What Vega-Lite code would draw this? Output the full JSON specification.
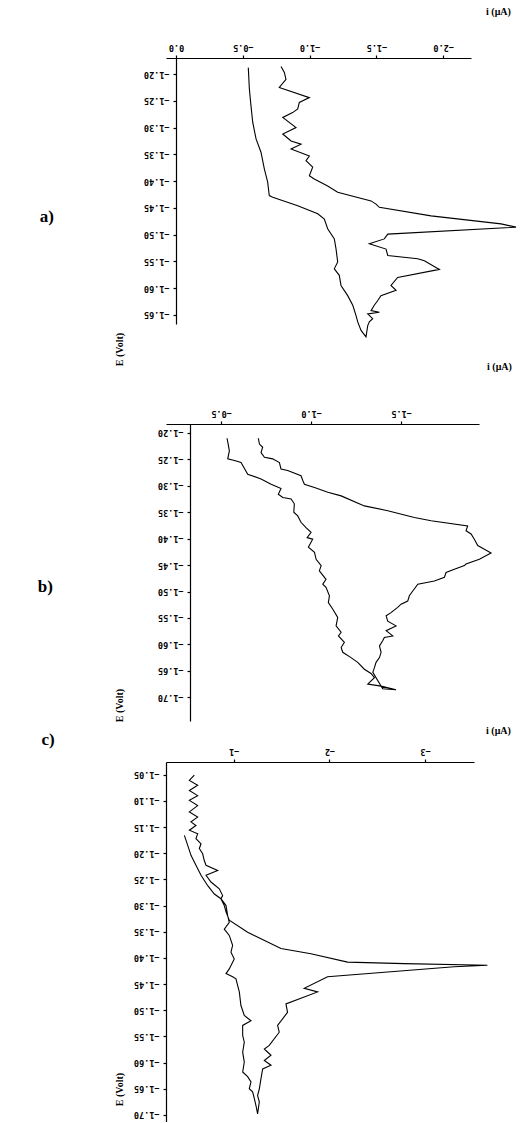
{
"$schema": "https://vega.github.io/schema/vega-lite/v6.json",
"background": "white",
"padding": {"left": 37, "top": 6, "right": 0, "bottom": 0},
"datasets": {
"a": [
{"k":1,"i":-0.541,"E":-1.188},{"k":2,"i":-0.549,"E":-1.228},{"k":3,"i":-0.561,"E":-1.259},{"k":4,"i":-0.574,"E":-1.290},{"k":5,"i":-0.599,"E":-1.321},{"k":6,"i":-0.636,"E":-1.346},{"k":7,"i":-0.661,"E":-1.377},{"k":8,"i":-0.686,"E":-1.402},{"k":9,"i":-0.698,"E":-1.427},{"k":10,"i":-0.724,"E":-1.430},{"k":11,"i":-0.911,"E":-1.446},{"k":12,"i":-1.061,"E":-1.461},{"k":13,"i":-1.110,"E":-1.471},{"k":14,"i":-1.135,"E":-1.489},{"k":15,"i":-1.185,"E":-1.508},{"k":16,"i":-1.198,"E":-1.527},{"k":17,"i":-1.210,"E":-1.551},{"k":18,"i":-1.185,"E":-1.564},{"k":19,"i":-1.222,"E":-1.576},{"k":20,"i":-1.235,"E":-1.595},{"k":21,"i":-1.285,"E":-1.614},{"k":22,"i":-1.323,"E":-1.632},{"k":23,"i":-1.347,"E":-1.651},{"k":24,"i":-1.360,"E":-1.663},{"k":25,"i":-1.385,"E":-1.679},{"k":26,"i":-1.422,"E":-1.691},
{"k":27,"i":-1.435,"E":-1.670},{"k":28,"i":-1.447,"E":-1.663},{"k":29,"i":-1.472,"E":-1.657},{"k":30,"i":-1.435,"E":-1.648},{"k":31,"i":-1.522,"E":-1.645},{"k":32,"i":-1.460,"E":-1.642},{"k":33,"i":-1.484,"E":-1.632},{"k":34,"i":-1.510,"E":-1.623},{"k":35,"i":-1.534,"E":-1.614},{"k":36,"i":-1.647,"E":-1.604},{"k":37,"i":-1.609,"E":-1.595},{"k":38,"i":-1.659,"E":-1.580},{"k":39,"i":-1.971,"E":-1.565},{"k":40,"i":-1.859,"E":-1.549},{"k":41,"i":-1.809,"E":-1.545},{"k":42,"i":-1.585,"E":-1.539},{"k":43,"i":-1.572,"E":-1.527},{"k":44,"i":-1.447,"E":-1.517},{"k":45,"i":-1.559,"E":-1.508},{"k":46,"i":-1.585,"E":-1.499},{"k":47,"i":-2.545,"E":-1.486},{"k":48,"i":-2.433,"E":-1.480},{"k":49,"i":-1.909,"E":-1.465},{"k":50,"i":-1.522,"E":-1.449},{"k":51,"i":-1.497,"E":-1.443},{"k":52,"i":-1.460,"E":-1.437},{"k":53,"i":-1.210,"E":-1.421},{"k":54,"i":-1.135,"E":-1.409},{"k":55,"i":-1.035,"E":-1.396},{"k":56,"i":-0.998,"E":-1.390},{"k":57,"i":-1.023,"E":-1.374},{"k":58,"i":-0.973,"E":-1.362},{"k":59,"i":-0.998,"E":-1.353},{"k":60,"i":-0.861,"E":-1.340},{"k":61,"i":-0.936,"E":-1.331},{"k":62,"i":-0.861,"E":-1.325},{"k":63,"i":-0.799,"E":-1.312},{"k":64,"i":-0.898,"E":-1.300},{"k":65,"i":-0.799,"E":-1.281},{"k":66,"i":-0.873,"E":-1.272},{"k":67,"i":-0.911,"E":-1.265},{"k":68,"i":-0.923,"E":-1.253},{"k":69,"i":-0.998,"E":-1.244},{"k":70,"i":-0.773,"E":-1.225},{"k":71,"i":-0.823,"E":-1.210},{"k":72,"i":-0.811,"E":-1.197},{"k":73,"i":-0.786,"E":-1.186}
],
"b": [
{"k":1,"i":-0.533,"E":-1.210},{"k":2,"i":-0.541,"E":-1.224},{"k":3,"i":-0.546,"E":-1.234},{"k":4,"i":-0.537,"E":-1.249},{"k":5,"i":-0.574,"E":-1.252},{"k":6,"i":-0.611,"E":-1.256},{"k":7,"i":-0.626,"E":-1.265},{"k":8,"i":-0.648,"E":-1.278},{"k":9,"i":-0.722,"E":-1.287},{"k":10,"i":-0.778,"E":-1.297},{"k":11,"i":-0.833,"E":-1.305},{"k":12,"i":-0.818,"E":-1.316},{"k":13,"i":-0.843,"E":-1.322},{"k":14,"i":-0.889,"E":-1.325},{"k":15,"i":-0.907,"E":-1.334},{"k":16,"i":-0.904,"E":-1.350},{"k":17,"i":-0.926,"E":-1.357},{"k":18,"i":-0.944,"E":-1.369},{"k":19,"i":-0.972,"E":-1.379},{"k":20,"i":-1.000,"E":-1.388},{"k":21,"i":-0.978,"E":-1.398},{"k":22,"i":-1.009,"E":-1.401},{"k":23,"i":-0.985,"E":-1.416},{"k":24,"i":-1.019,"E":-1.426},{"k":25,"i":-1.028,"E":-1.439},{"k":26,"i":-1.056,"E":-1.451},{"k":27,"i":-1.046,"E":-1.461},{"k":28,"i":-1.083,"E":-1.477},{"k":29,"i":-1.065,"E":-1.486},{"k":30,"i":-1.083,"E":-1.492},{"k":31,"i":-1.102,"E":-1.508},{"k":32,"i":-1.096,"E":-1.521},{"k":33,"i":-1.120,"E":-1.533},{"k":34,"i":-1.148,"E":-1.549},{"k":35,"i":-1.139,"E":-1.565},{"k":36,"i":-1.167,"E":-1.577},{"k":37,"i":-1.152,"E":-1.584},{"k":38,"i":-1.185,"E":-1.596},{"k":39,"i":-1.167,"E":-1.606},{"k":40,"i":-1.176,"E":-1.615},{"k":41,"i":-1.222,"E":-1.625},{"k":42,"i":-1.259,"E":-1.634},{"k":43,"i":-1.296,"E":-1.647},{"k":44,"i":-1.333,"E":-1.655},{"k":45,"i":-1.352,"E":-1.663},{"k":46,"i":-1.315,"E":-1.675},{"k":47,"i":-1.389,"E":-1.679},{"k":48,"i":-1.472,"E":-1.686},
{"k":49,"i":-1.398,"E":-1.684},{"k":50,"i":-1.343,"E":-1.653},{"k":51,"i":-1.352,"E":-1.644},{"k":52,"i":-1.361,"E":-1.634},{"k":53,"i":-1.380,"E":-1.625},{"k":54,"i":-1.389,"E":-1.615},{"k":55,"i":-1.380,"E":-1.603},{"k":56,"i":-1.398,"E":-1.593},{"k":57,"i":-1.407,"E":-1.587},{"k":58,"i":-1.454,"E":-1.584},{"k":59,"i":-1.417,"E":-1.574},{"k":60,"i":-1.472,"E":-1.565},{"k":61,"i":-1.426,"E":-1.556},{"k":62,"i":-1.417,"E":-1.546},{"k":63,"i":-1.444,"E":-1.540},{"k":64,"i":-1.481,"E":-1.530},{"k":65,"i":-1.500,"E":-1.524},{"k":66,"i":-1.537,"E":-1.518},{"k":67,"i":-1.546,"E":-1.508},{"k":68,"i":-1.565,"E":-1.499},{"k":69,"i":-1.593,"E":-1.486},{"k":70,"i":-1.685,"E":-1.480},{"k":71,"i":-1.741,"E":-1.473},{"k":72,"i":-1.750,"E":-1.464},{"k":73,"i":-1.796,"E":-1.458},{"k":74,"i":-1.852,"E":-1.451},{"k":75,"i":-1.861,"E":-1.448},{"k":76,"i":-1.935,"E":-1.439},{"k":77,"i":-2.000,"E":-1.427},{"k":78,"i":-1.963,"E":-1.420},{"k":79,"i":-1.926,"E":-1.413},{"k":80,"i":-1.907,"E":-1.401},{"k":81,"i":-1.889,"E":-1.391},{"k":82,"i":-1.861,"E":-1.385},{"k":83,"i":-1.870,"E":-1.376},{"k":84,"i":-1.667,"E":-1.366},{"k":85,"i":-1.574,"E":-1.360},{"k":86,"i":-1.426,"E":-1.347},{"k":87,"i":-1.296,"E":-1.338},{"k":88,"i":-1.167,"E":-1.319},{"k":89,"i":-1.093,"E":-1.312},{"k":90,"i":-1.019,"E":-1.303},{"k":91,"i":-0.963,"E":-1.297},{"k":92,"i":-0.954,"E":-1.290},{"k":93,"i":-0.944,"E":-1.281},{"k":94,"i":-0.870,"E":-1.271},{"k":95,"i":-0.833,"E":-1.268},{"k":96,"i":-0.824,"E":-1.256},{"k":97,"i":-0.787,"E":-1.249},{"k":98,"i":-0.741,"E":-1.246},{"k":99,"i":-0.722,"E":-1.237},{"k":100,"i":-0.731,"E":-1.227},{"k":101,"i":-0.713,"E":-1.221},{"k":102,"i":-0.707,"E":-1.210}
],
"c": [
{"k":1,"i":-0.589,"E":-1.051},{"k":2,"i":-0.537,"E":-1.061},{"k":3,"i":-0.624,"E":-1.070},{"k":4,"i":-0.537,"E":-1.080},{"k":5,"i":-0.624,"E":-1.090},{"k":6,"i":-0.537,"E":-1.099},{"k":7,"i":-0.624,"E":-1.109},{"k":8,"i":-0.537,"E":-1.121},{"k":9,"i":-0.624,"E":-1.131},{"k":10,"i":-0.554,"E":-1.140},{"k":11,"i":-0.606,"E":-1.147},{"k":12,"i":-0.537,"E":-1.156},{"k":13,"i":-0.624,"E":-1.163},{"k":14,"i":-0.606,"E":-1.172},{"k":15,"i":-0.659,"E":-1.182},{"k":16,"i":-0.641,"E":-1.191},{"k":17,"i":-0.676,"E":-1.201},{"k":18,"i":-0.693,"E":-1.214},{"k":19,"i":-0.711,"E":-1.223},{"k":20,"i":-0.833,"E":-1.233},{"k":21,"i":-0.711,"E":-1.242},{"k":22,"i":-0.763,"E":-1.255},{"k":23,"i":-0.850,"E":-1.268},{"k":24,"i":-0.885,"E":-1.281},{"k":25,"i":-0.867,"E":-1.287},{"k":26,"i":-0.902,"E":-1.300},{"k":27,"i":-0.920,"E":-1.312},{"k":28,"i":-0.954,"E":-1.328},{"k":29,"i":-1.146,"E":-1.351},{"k":30,"i":-1.494,"E":-1.382},{"k":31,"i":-1.807,"E":-1.392},{"k":32,"i":-2.190,"E":-1.408},{"k":33,"i":-2.781,"E":-1.411},{"k":34,"i":-3.651,"E":-1.414},{"k":35,"i":-3.303,"E":-1.417},{"k":36,"i":-1.981,"E":-1.436},{"k":37,"i":-1.737,"E":-1.458},{"k":38,"i":-1.877,"E":-1.465},{"k":39,"i":-1.546,"E":-1.488},{"k":40,"i":-1.563,"E":-1.504},{"k":41,"i":-1.459,"E":-1.529},{"k":42,"i":-1.476,"E":-1.542},{"k":43,"i":-1.372,"E":-1.567},{"k":44,"i":-1.320,"E":-1.574},{"k":45,"i":-1.390,"E":-1.586},{"k":46,"i":-1.320,"E":-1.596},{"k":47,"i":-1.390,"E":-1.605},{"k":48,"i":-1.303,"E":-1.612},{"k":49,"i":-1.285,"E":-1.631},{"k":50,"i":-1.268,"E":-1.650},{"k":51,"i":-1.250,"E":-1.663},{"k":52,"i":-1.268,"E":-1.675},{"k":53,"i":-1.250,"E":-1.698},
{"k":54,"i":-1.233,"E":-1.682},{"k":55,"i":-1.216,"E":-1.669},{"k":56,"i":-1.198,"E":-1.656},{"k":57,"i":-1.163,"E":-1.650},{"k":58,"i":-1.181,"E":-1.637},{"k":59,"i":-1.146,"E":-1.627},{"k":60,"i":-1.094,"E":-1.618},{"k":61,"i":-1.111,"E":-1.599},{"k":62,"i":-1.094,"E":-1.580},{"k":63,"i":-1.111,"E":-1.561},{"k":64,"i":-1.094,"E":-1.548},{"k":65,"i":-1.094,"E":-1.529},{"k":66,"i":-1.181,"E":-1.520},{"k":67,"i":-1.111,"E":-1.510},{"k":68,"i":-1.076,"E":-1.491},{"k":69,"i":-1.059,"E":-1.465},{"k":70,"i":-1.042,"E":-1.453},{"k":71,"i":-1.024,"E":-1.440},{"k":72,"i":-0.989,"E":-1.436},{"k":73,"i":-0.920,"E":-1.430},{"k":74,"i":-0.954,"E":-1.421},{"k":75,"i":-1.006,"E":-1.402},{"k":76,"i":-0.972,"E":-1.389},{"k":77,"i":-0.989,"E":-1.376},{"k":78,"i":-0.954,"E":-1.357},{"k":79,"i":-0.902,"E":-1.345},{"k":80,"i":-0.954,"E":-1.332},{"k":81,"i":-0.937,"E":-1.319},{"k":82,"i":-0.920,"E":-1.300},{"k":83,"i":-0.867,"E":-1.287},{"k":84,"i":-0.798,"E":-1.278},{"k":85,"i":-0.729,"E":-1.262},{"k":86,"i":-0.659,"E":-1.242},{"k":87,"i":-0.606,"E":-1.223},{"k":88,"i":-0.554,"E":-1.204},{"k":89,"i":-0.520,"E":-1.185},{"k":90,"i":-0.485,"E":-1.166}
]
},
"spacing": 100,
"bounds": "flush",
"vconcat": [
{
"width": 305, "height": 266,
"data": {"name": "a"},
"title": {"text": "a)", "orient": "left", "angle": 0, "align": "right", "baseline": "middle", "anchor": "middle", "frame": "group", "offset": 46, "dy": 26, "font": "Liberation Serif", "fontSize": 17, "fontWeight": "bold", "color": "black"},
"mark": {"type": "line", "color": "black", "strokeWidth": 1.1},
"encoding": {
"x": {"field": "i", "type": "quantitative", "scale": {"domain": [0.075, -2.208], "nice": false, "zero": false},
"axis": {"orient": "top", "values": [0, -0.5, -1, -1.5, -2], "format": ".1f", "title": "i (μA)", "titleX": 332, "titleY": -47}},
"y": {"field": "E", "type": "quantitative", "scale": {"domain": [-1.667, -1.17], "nice": false, "zero": false},
"axis": {"values": [-1.2, -1.25, -1.3, -1.35, -1.4, -1.45, -1.5, -1.55, -1.6, -1.65], "format": ".2f", "offset": -10, "title": "E (Volt)", "titleX": -57, "titleY": 291}},
"order": {"field": "k", "type": "quantitative"}
}
},
{
"spacing": 41,
"bounds": "flush",
"vconcat": [
{
"width": 313, "height": 297,
"data": {"name": "b"},
"title": {"text": "b)", "orient": "left", "angle": 0, "align": "right", "baseline": "middle", "anchor": "middle", "frame": "group", "offset": 46, "dy": 14, "font": "Liberation Serif", "fontSize": 17, "fontWeight": "bold", "color": "black"},
"mark": {"type": "line", "color": "black", "strokeWidth": 1.1},
"encoding": {
"x": {"field": "i", "type": "quantitative", "scale": {"domain": [-0.194, -1.933], "nice": false, "zero": false},
"axis": {"orient": "top", "values": [-0.5, -1, -1.5], "format": ".1f", "title": "i (μA)", "titleX": 333, "titleY": -58}},
"y": {"field": "E", "type": "quantitative", "scale": {"domain": [-1.745, -1.183], "nice": false, "zero": false},
"axis": {"values": [-1.2, -1.25, -1.3, -1.35, -1.4, -1.45, -1.5, -1.55, -1.6, -1.65, -1.7], "format": ".2f", "offset": -24, "title": "E (Volt)", "titleX": -71, "titleY": 281}},
"order": {"field": "k", "type": "quantitative"}
}
},
{
"width": 308, "height": 360,
"data": {"name": "c"},
"title": {"text": "c)", "orient": "left", "angle": 0, "align": "right", "baseline": "middle", "anchor": "middle", "frame": "group", "offset": 46, "dy": -202, "font": "Liberation Serif", "fontSize": 17, "fontWeight": "bold", "color": "black"},
"mark": {"type": "line", "color": "black", "strokeWidth": 1.1},
"encoding": {
"x": {"field": "i", "type": "quantitative", "scale": {"domain": [-0.293, -3.511], "nice": false, "zero": false},
"axis": {"orient": "top", "values": [-1, -2, -3], "format": ".0f", "title": "i (μA)", "titleX": 332, "titleY": -32}},
"y": {"field": "E", "type": "quantitative", "scale": {"domain": [-1.7135, -1.0257], "nice": false, "zero": false},
"axis": {"values": [-1.05, -1.1, -1.15, -1.2, -1.25, -1.3, -1.35, -1.4, -1.45, -1.5, -1.55, -1.6, -1.65, -1.7], "format": ".2f", "title": "E (Volt)", "titleX": -47, "titleY": 327}},
"order": {"field": "k", "type": "quantitative"}
}
}
]
}
],
"config": {
"view": {"stroke": null},
"axis": {"domainColor": "black", "tickColor": "black", "labelColor": "black", "titleColor": "black", "grid": false, "labelFont": "DejaVu Sans Mono", "labelFontSize": 8.5, "labelFontWeight": "bold", "tickSize": 3, "domainWidth": 1.2, "tickWidth": 1.2, "titleFont": "Liberation Serif", "titleFontSize": 10, "titleFontWeight": "bold", "labelOverlap": false},
"axisX": {"labelAngle": 180, "labelBaseline": "top", "labelAlign": "center", "labelPadding": 4, "titleAngle": 0, "titleBaseline": "middle", "titleAlign": "center"},
"axisY": {"labelAngle": 180, "labelAlign": "left", "labelBaseline": "middle", "labelPadding": 4, "titleAngle": -90, "titleBaseline": "middle", "titleAlign": "center"}
}
}
